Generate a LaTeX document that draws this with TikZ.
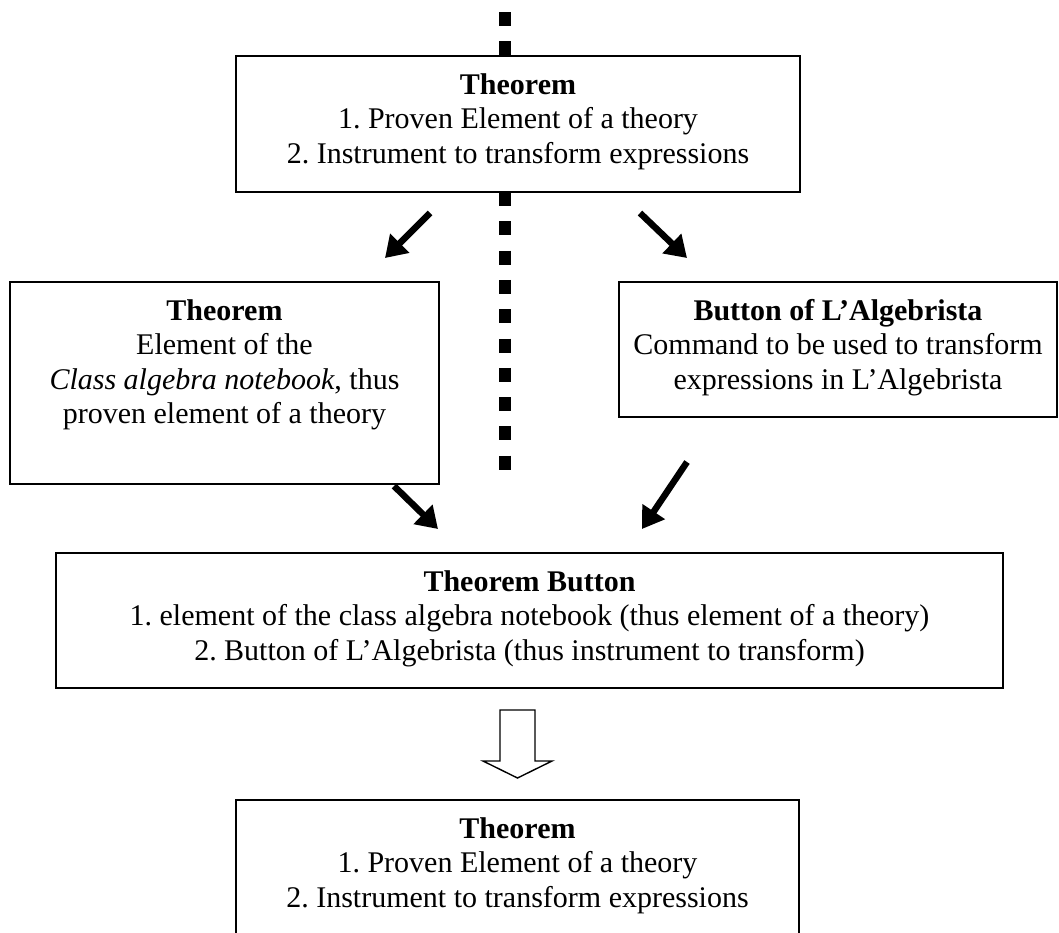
\documentclass[tikz,border=0pt]{standalone}
\usepackage{fontspec}
\setmainfont{Liberation Serif}
\usetikzlibrary{arrows.meta,calc}
\frenchspacing
\newcommand{\boxtxt}[3]{\begin{minipage}[c][#2][t]{#1}\frenchspacing\centering\rule{0pt}{38pt}#3\end{minipage}}
\tikzset{
  card/.style={draw, line width=1.6pt, fill=white, inner sep=0pt, outer sep=0pt, anchor=center,
    font=\fontsize{30pt}{34.5pt}\selectfont},
  dotline/.style={line width=12.5pt, dash pattern=on 14pt off 15.3pt},
  fatarrow/.style={line width=6.5pt, -{Triangle[length=21pt,width=26pt]}},
  hollow/.style={draw, line width=1.4pt, fill=white}
}
\begin{document}
\begin{tikzpicture}[x=1pt,y=-1pt]
\useasboundingbox (0,0) rectangle (1059,932);
\clip (0,0) rectangle (1059,932);

% vertical dotted line
\coordinate (dt) at (505,12);
\coordinate (db) at (505,471);

\node[card] (top) at (518,124) {\boxtxt{564pt}{136pt}{\textbf{Theorem}\\1. Proven Element of a theory\\2. Instrument to transform expressions}};

\draw[dotline] (dt) -- (top.north -| dt);
\draw[dotline] (top.south -| dt) -- (db);

\node[card] (left) at (224.5,383) {\boxtxt{429pt}{202pt}{\textbf{Theorem}\\Element of the\\\textit{Class algebra notebook}, thus\\proven element of a theory}};

\node[card] (right) at (838,349.5) {\boxtxt{438pt}{135pt}{\textbf{Button of L’Algebrista}\\Command to be used to transform\\expressions in L’Algebrista}};

\node[card] (tb) at (529.5,620.5) {\boxtxt{947pt}{135pt}{\textbf{Theorem Button}\\1. element of the class algebra notebook (thus element of a theory)\\2. Button of L’Algebrista (thus instrument to transform)}};

\node[card] (bot) at (517.5,872.5) {\boxtxt{563pt}{145pt}{\textbf{Theorem}\\1. Proven Element of a theory\\2. Instrument to transform expressions}};

% thick arrows
\coordinate (a1s) at (430,213); \coordinate (a1e) at (385,258);
\coordinate (a2s) at (640,213); \coordinate (a2e) at (687,258);
\coordinate (a3s) at (394,486); \coordinate (a3e) at (438,529);
\coordinate (a4s) at (687,462); \coordinate (a4e) at (642,529);
\draw[fatarrow] (a1s) -- (a1e);
\draw[fatarrow] (a2s) -- (a2e);
\draw[fatarrow] (a3s) -- (a3e);
\draw[fatarrow] (a4s) -- (a4e);

% hollow block arrow from tb to bot
\coordinate (hc) at (517.5,710);
\draw[hollow] ($(hc)+(-17.5,0)$) -- ($(hc)+(17.5,0)$) -- ($(hc)+(17.5,51)$) -- ($(hc)+(34.5,51)$)
  -- ($(hc)+(0,68)$) -- ($(hc)+(-34.5,51)$) -- ($(hc)+(-17.5,51)$) -- cycle;
\end{tikzpicture}
\end{document}
